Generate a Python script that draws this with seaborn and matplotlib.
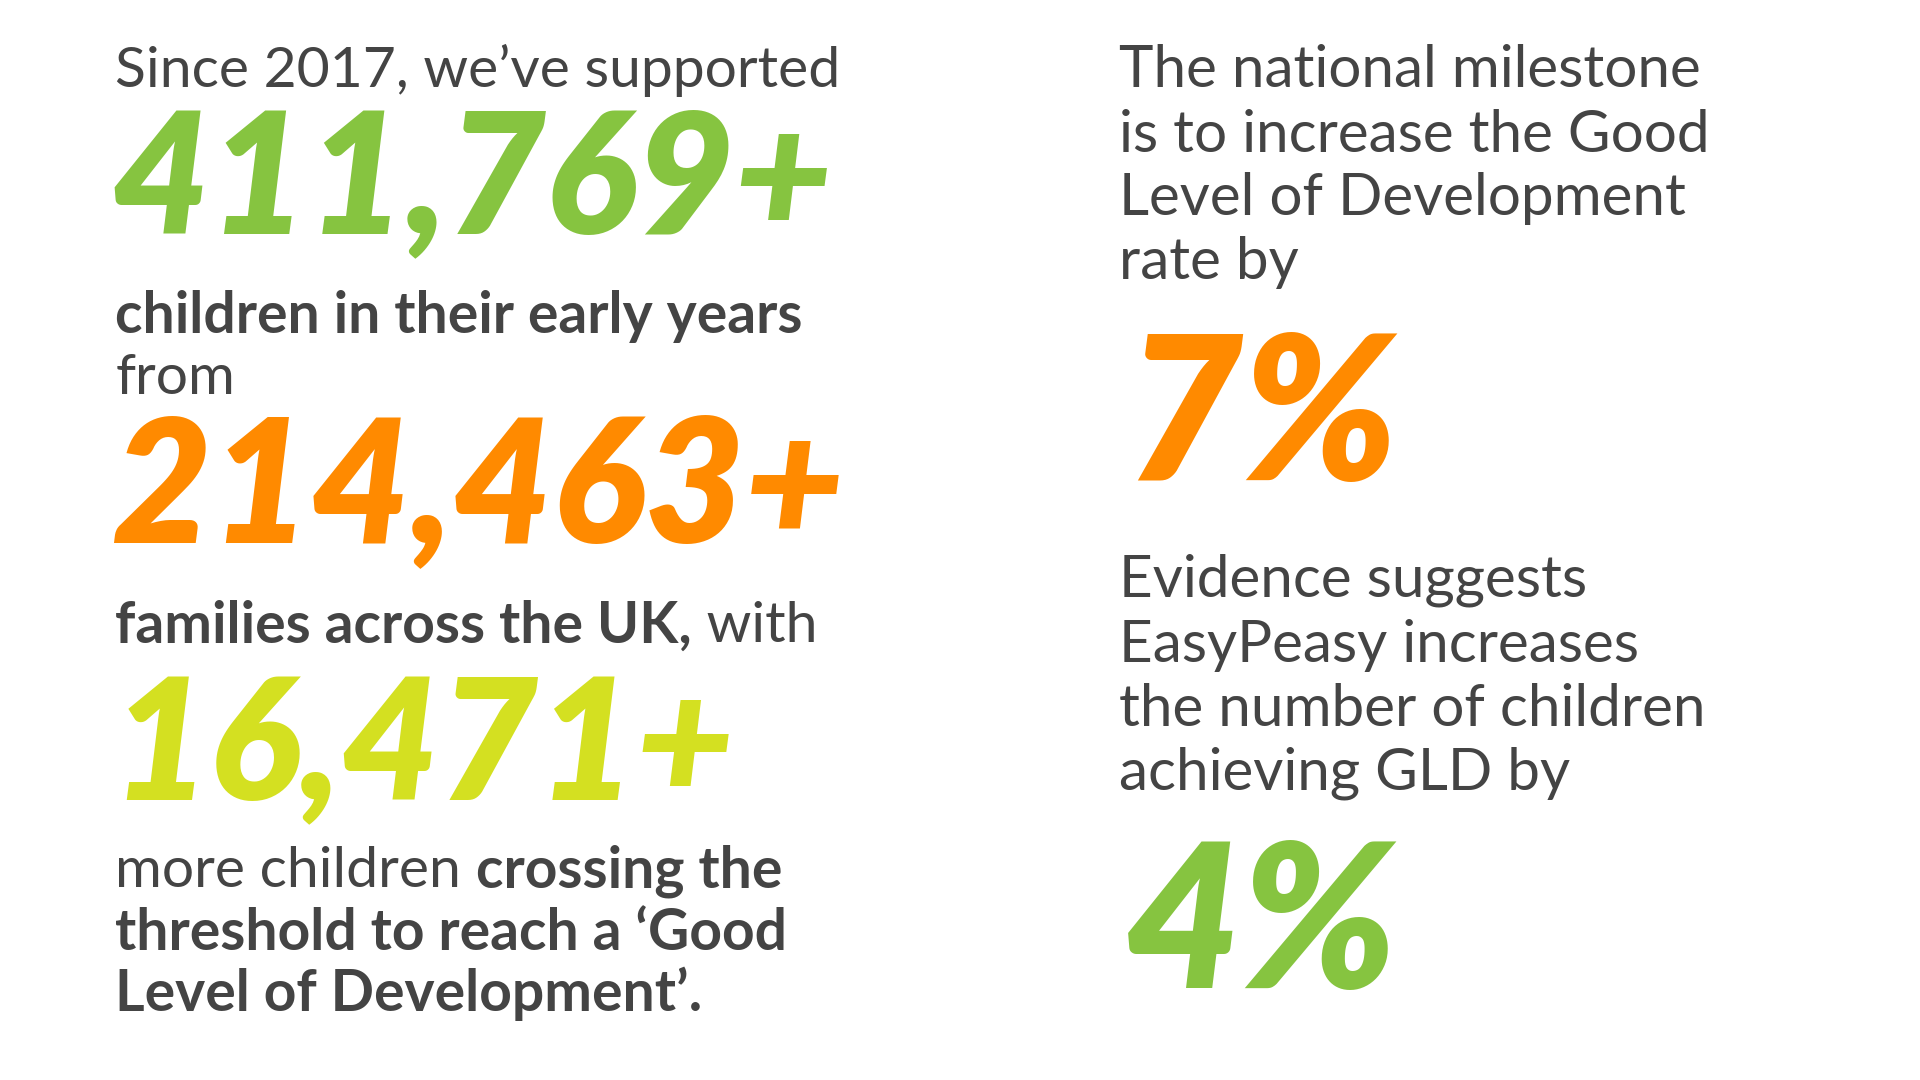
import matplotlib
matplotlib.use("Agg")
import matplotlib.pyplot as plt
import seaborn as sns

sns.set_theme(style="white")
plt.rcParams['font.family'] = ['Lato', 'DejaVu Sans']

# headline figures
big_numbers = ["411,769+", "214,463+", "16,471+"]
big_colors = ["#86C440", "#FF8A00", "#D4E021"]
percents = ["7%", "4%"]
percent_colors = ["#FF8A00", "#86C440"]
TEXT = "#444444"

# left column copy: list of lines, each a list of (text, bold)
left_before = [
    [[("Since 2017, we\u2019ve supported", False)]],
    [[("children in their early years", True)], [("from", False)]],
    [[("families across the UK,", True), (" with", False)]],
]
left_after = [
    [("more children ", False), ("crossing the", True)],
    [("threshold to reach a \u2018Good", True)],
    [("Level of Development\u2019.", True)],
]
right_blocks = [
    ["The national milestone", "is to increase the Good",
     "Level of Development", "rate by"],
    ["Evidence suggests", "EasyPeasy increases",
     "the number of children", "achieving GLD by"],
]

fig = plt.figure(figsize=(19.2, 10.8), dpi=100)
fig.patch.set_facecolor("white")
renderer = fig.canvas.get_renderer()
BODY = 41


def rich_line(x, y, parts, size=BODY):
    for txt, bold in parts:
        t = fig.text(x, 1 - y, txt, fontsize=size, color=TEXT,
                     fontweight="bold" if bold else "normal", va="center", ha="left")
        bb = t.get_window_extent(renderer)
        x += bb.width / fig.bbox.width


LX = 0.06
line_y = [[0.065], [0.293, 0.35], [0.58]]
num_y = [0.17, 0.455, 0.695]
num_size = [122, 124, 122]
for block, ys, num, col, ny, ns in zip(left_before, line_y, big_numbers, big_colors, num_y, num_size):
    for parts, y in zip(block, ys):
        rich_line(LX, y, parts)
    fig.text(LX - 0.002, 1 - ny, num, fontsize=ns, fontweight="heavy", color=col,
             va="center", ha="left", style="italic")
for parts, y in zip(left_after, [0.807, 0.864, 0.92]):
    rich_line(LX, y, parts)

RX = 0.583
block_y = [[0.065, 0.125, 0.184, 0.243], [0.537, 0.598, 0.657, 0.716]]
pct_y = [0.39, 0.86]
for lines, ys, pct, col, py in zip(right_blocks, block_y, percents, percent_colors, pct_y):
    for txt, y in zip(lines, ys):
        fig.text(RX, 1 - y, txt, fontsize=42, color=TEXT, va="center", ha="left")
    fig.text(RX + 0.003, 1 - py, pct, fontsize=145, fontweight="heavy", color=col,
             va="center", ha="left", style="italic")

fig.savefig("out.png", dpi=100, facecolor="white")
